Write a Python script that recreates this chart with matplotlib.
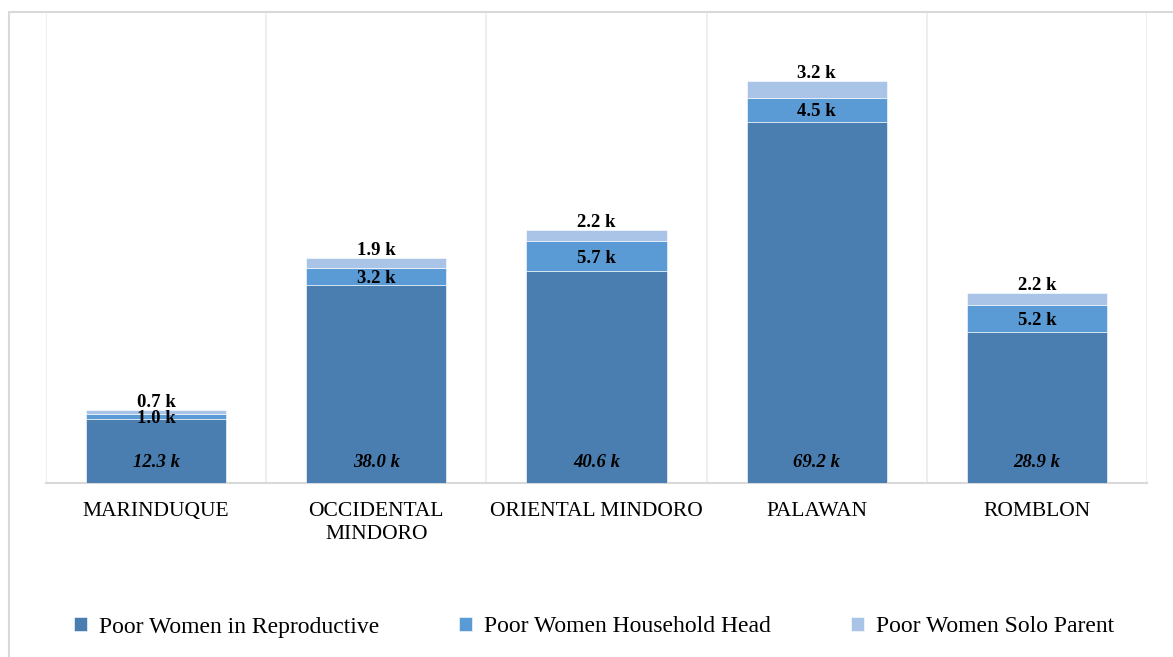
import numpy as np
import matplotlib
matplotlib.use('Agg')
import matplotlib.pyplot as plt
from matplotlib.patches import Rectangle

# Data (thousands)
provinces = ['MARINDUQUE', 'OCCIDENTAL\nMINDORO', 'ORIENTAL MINDORO', 'PALAWAN', 'ROMBLON']
reproductive = [12.3, 38.0, 40.6, 69.2, 28.9]
household_head = [1.0, 3.2, 5.7, 4.5, 5.2]
solo_parent = [0.7, 1.9, 2.2, 3.2, 2.2]
series_names = ['Poor Women in Reproductive', 'Poor Women Household Head', 'Poor Women Solo Parent']
colors = ['#4A7EB0', '#5B9BD5', '#A9C4E6']

plt.rcParams['font.family'] = ['Liberation Serif', 'DejaVu Serif']

fig = plt.figure(figsize=(11.73, 6.57), dpi=100)
ax = fig.add_axes([46 / 1173, 1 - 483 / 657, 1101 / 1173, 470 / 657])

x = np.arange(len(provinces))
w = 0.636
b1 = ax.bar(x, reproductive, w, color=colors[0], edgecolor='white', linewidth=0.4,
            label=series_names[0], zorder=3)
b2 = ax.bar(x, household_head, w, bottom=reproductive, color=colors[1], edgecolor='white',
            linewidth=0.4, label=series_names[1], zorder=3)
bottom3 = np.add(reproductive, household_head)
b3 = ax.bar(x, solo_parent, w, bottom=bottom3, color=colors[2], edgecolor='white',
            linewidth=0.4, label=series_names[2], zorder=3)

# data labels
for xi, v in zip(x, reproductive):
    ax.annotate(f'{v:.1f} k', (xi, 0), xytext=(0, 15), textcoords='offset points',
                ha='center', va='center', fontsize=13.5, fontweight='bold', fontstyle='italic', zorder=4)
for xi, b, v in zip(x, reproductive, household_head):
    ax.annotate(f'{v:.1f} k', (xi, b + v / 2), xytext=(0, -1.5), textcoords='offset points',
                ha='center', va='center', fontsize=13.5, fontweight='bold', zorder=4)
for xi, b, v in zip(x, bottom3, solo_parent):
    ax.annotate(f'{v:.1f} k', (xi, b + v), xytext=(0, 5.5), textcoords='offset points',
                ha='center', va='center', fontsize=13.5, fontweight='bold', zorder=4)

ax.set_xlim(-0.5, 4.5)
ax.set_ylim(0, 90)
ax.set_xticks(x)
ax.set_xticklabels(provinces, fontsize=15.5, linespacing=1.25)
ax.tick_params(axis='x', length=0, pad=14)
ax.set_yticks([])
for xv in np.arange(-0.5, 5, 1.0):
    ax.axvline(xv, color='#EDEDED', linewidth=1.3, zorder=0)
for s in ['top', 'right', 'left']:
    ax.spines[s].set_visible(False)
ax.spines['bottom'].set_color('#D9D9D9')
ax.spines['bottom'].set_linewidth(1.5)

# chart border
fig.patches.append(Rectangle((9 / 1173, -0.1), 1.2, 1 - 12 / 657 + 0.1, transform=fig.transFigure,
                             fill=False, edgecolor='#D9D9D9', linewidth=1.5))

fig.legend(handles=[b1, b2, b3], labels=series_names, loc='center', ncol=3,
           bbox_to_anchor=(594 / 1173, 1 - 627 / 657), frameon=False, fontsize=17,
           handlelength=0.55, handleheight=0.55, handletextpad=0.5, columnspacing=3.4)

fig.savefig('out.png', dpi=100, facecolor='white')
